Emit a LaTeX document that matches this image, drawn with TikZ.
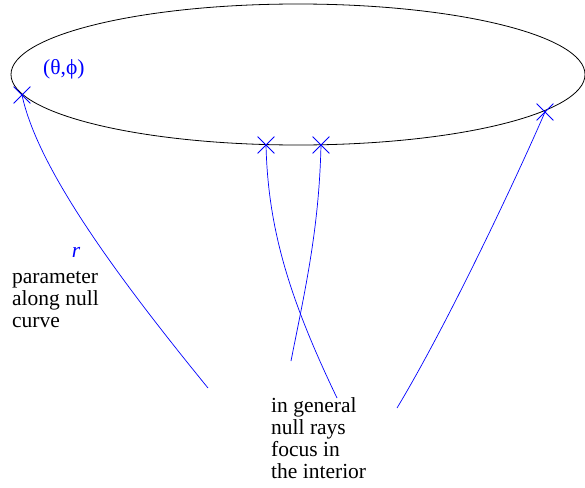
\documentclass[tikz,border=0pt]{standalone}
\usepackage{fontspec}
\setmainfont{Liberation Serif}
\usetikzlibrary{shapes.geometric, shapes.misc, positioning}

\begin{document}
\begin{tikzpicture}[x=1pt, y=-1pt,
    raymark/.style={draw=blue, cross out, line width=0.8pt, minimum size=16pt, inner sep=0pt},
    ray/.style={draw=blue, line width=0.7pt},
    note/.style={font=\fontsize{21.5}{22}\selectfont, align=left, inner sep=0pt, anchor=north west}
]
    \useasboundingbox (0,0) rectangle (585,487);

    % sphere at infinity
    \node[draw, ellipse, line width=0.8pt, inner sep=0pt,
          minimum width=574pt, minimum height=141pt] (sky) at (298,74.5) {};

    % crossing points
    \node[raymark] (p1) at (22,95) {};
    \node[raymark] (p2) at (266,145) {};
    \node[raymark] (p3) at (321,145) {};
    \node[raymark] (p4) at (545,112) {};

    % free ends of the rays
    \coordinate (e1) at (208,388);
    \coordinate (e2) at (337,398);
    \coordinate (e3) at (291,361);
    \coordinate (e4) at (397,408);

    % null rays
    \draw[ray] (p1.center) .. controls (38,170) and (120,280) .. (e1);
    \draw[ray] (p2.center) .. controls (268,230) and (290,300) .. (e2);
    \draw[ray] (p3.center) .. controls (319,230) and (305,290) .. (e3);
    \draw[ray] (p4.center) .. controls (520,170) and (450,320) .. (e4);

    % labels
    \node[note, anchor=west, text=blue] (angles) at (43,69) {(θ,ϕ)};
    \node[note, anchor=center, text=blue] (rlabel) at (76,252) {\textit{r}};
    \node[note] (param) at (12,271) {parameter\\along null\\curve};
    \node[note] (focus) at (271,397) {in general\\null rays\\focus in\\the interior};
\end{tikzpicture}
\end{document}
